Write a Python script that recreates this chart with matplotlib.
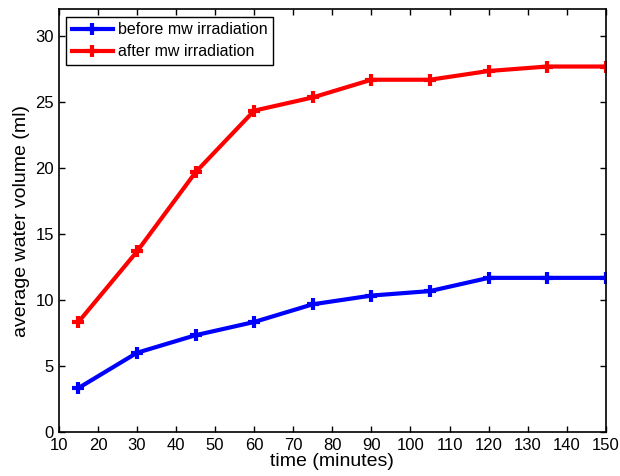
import matplotlib
matplotlib.use("Agg")
import matplotlib.pyplot as plt

time_min = [15, 30, 45, 60, 75, 90, 105, 120, 135, 150]
before_mw = [3.33, 6.0, 7.33, 8.33, 9.67, 10.33, 10.67, 11.67, 11.67, 11.67]
after_mw = [8.33, 13.67, 19.67, 24.33, 25.33, 26.67, 26.67, 27.33, 27.67, 27.67]
xticks = list(range(10, 151, 10))
yticks = list(range(0, 31, 5))

plt.rcParams['font.family'] = ['Liberation Sans', 'DejaVu Sans']
fig = plt.figure(figsize=(6.2, 4.76), dpi=100)
ax = fig.add_axes([0.095, 0.0924, 0.882, 0.888])

ax.plot(time_min, before_mw, color='#0000ff', lw=3, marker='+', ms=8, mew=3,
        label='before mw irradiation')
ax.plot(time_min, after_mw, color='#ff0000', lw=3, marker='+', ms=8, mew=3,
        label='after mw irradiation')

ax.set_xlim(10, 150)
ax.set_ylim(0, 32)
ax.set_xticks(xticks)
ax.set_yticks(yticks)
ax.tick_params(direction='in', top=True, right=True, labelsize=12, length=4, width=1)
ax.tick_params(axis='x', pad=4.5)
for s in ax.spines.values():
    s.set_linewidth(1.2)
ax.set_xlabel('time (minutes)', fontsize=14, labelpad=0)
ax.set_ylabel('average water volume (ml)', fontsize=14, labelpad=4)

leg = ax.legend(loc='upper left', fontsize=11.5, fancybox=False, framealpha=1,
                edgecolor='black', borderpad=0.35, handlelength=2.6, handletextpad=0.3,
                labelspacing=0.45, borderaxespad=0.45)
leg.get_frame().set_linewidth(1.0)

fig.savefig('out.png', dpi=100)
